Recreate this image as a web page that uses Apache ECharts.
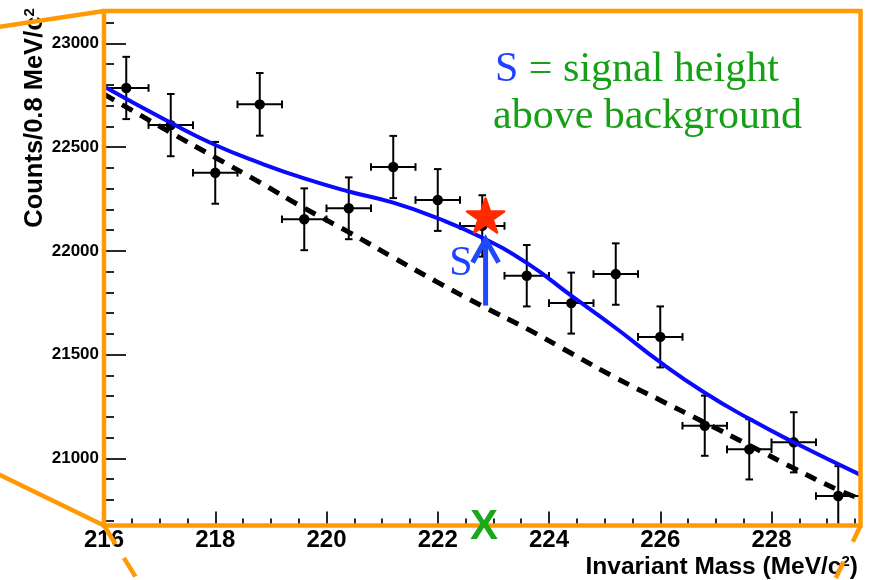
<!DOCTYPE html>
<html>
<head>
<meta charset="utf-8">
<script src="https://cdn.jsdelivr.net/npm/echarts@6/dist/echarts.min.js"></script>
<style>
  html, body { margin: 0; padding: 0; background: #ffffff; }
  #chart { width: 869px; height: 580px; }
</style>
</head>
<body>
<div id="chart"></div>
<script>
// Histogram: bin centres (MeV/c^2), counts per 0.8 MeV bin and their errors
const binCenters = [216.4, 217.2, 218.0, 218.8, 219.6, 220.4, 221.2, 222.0, 222.8, 223.6, 224.4, 225.2, 226.0, 226.8, 227.6, 228.4, 229.2];
const counts = [22785, 22606, 22376, 22706, 22152, 22205, 22404, 22245, 22120, 21880, 21748, 21888, 21585, 21157, 21043, 21077, 20818];
const countErrors = [150, 150, 149, 151, 149, 149, 150, 149, 148, 148, 147, 148, 147, 145, 145, 145, 144];
const binWidth = 0.8;

// Full fit: signal + background
const fitMass = [216.0, 217.2, 218.0, 218.8, 219.6, 220.4, 221.2, 222.0, 222.8, 223.6, 224.4, 225.2, 226.0, 226.8, 227.6, 228.4, 229.6];
const fitCounts = [22792, 22617, 22510, 22424, 22349, 22286, 22232, 22157, 22063, 21942, 21784, 21628, 21463, 21316, 21190, 21077, 20920];

// Background-only component of the fit
const bgMass = [216.0, 217.2, 218.0, 218.8, 219.6, 220.4, 221.2, 222.0, 222.8, 223.6, 224.4, 225.2, 226.0, 226.8, 227.6, 228.4, 229.2, 229.6];
const bgCounts = [22755, 22570, 22450, 22330, 22206, 22090, 21968, 21848, 21734, 21625, 21506, 21388, 21280, 21172, 21063, 20952, 20847, 20805];

// Signal position, the S arrow (background -> fit) and the star marker
const signalMass = 222.86;
const signalBase = 21736;
const signalTop = 22055;
const starCounts = 22170;

// Axis ranges and tick positions
const xRange = [216, 229.6];
const yRange = [20676, 23156];
const xMajorTicks = [216, 218, 220, 222, 224, 226, 228];
const xMinorTicks = [216.5, 217, 217.5, 218.5, 219, 219.5, 220.5, 221, 221.5, 222.5, 223, 223.5, 224.5, 225, 225.5, 226.5, 227, 227.5, 228.5, 229, 229.5];
const yMajorTicks = [21000, 21500, 22000, 22500, 23000];
const yMinorTicks = [20700, 20800, 20900, 21100, 21200, 21300, 21400, 21600, 21700, 21800, 21900, 22100, 22200, 22300, 22400, 22600, 22700, 22800, 22900, 23100];

const W = 869, H = 580;
const GRID = { left: 104, top: 11, right: 8.5, bottom: 54.5 };
const ORANGE = '#ff9a05';
const SANS = '"Liberation Sans", Arial, Helvetica, sans-serif';
const SERIF = '"Liberation Serif", "Times New Roman", Times, serif';
const ARROW_BLUE = '#1f48ff';
const TEXT_BLUE = '#1f40ff';
const TEXT_GREEN = '#16a016';
const FIT_BLUE = '#0a0aff';

const pairs = (xs, ys) => xs.map((x, i) => [x, ys[i]]);

function errorBarItem(params, api) {
  const x = api.value(0), y = api.value(1), e = api.value(2);
  const c = api.coord([x, y]);
  const l = api.coord([x - binWidth / 2, y]);
  const r = api.coord([x + binWidth / 2, y]);
  const t = api.coord([x, y + e]);
  const b = api.coord([x, y - e]);
  const cap = 3.8;
  const st = { stroke: '#000', lineWidth: 2 };
  const seg = (x1, y1, x2, y2) => ({ type: 'line', shape: { x1, y1, x2, y2 }, style: st });
  return {
    type: 'group',
    children: [
      seg(l[0], c[1], r[0], c[1]),
      seg(c[0], t[1], c[0], b[1]),
      seg(l[0], c[1] - cap, l[0], c[1] + cap),
      seg(r[0], c[1] - cap, r[0], c[1] + cap),
      seg(c[0] - cap, t[1], c[0] + cap, t[1]),
      seg(c[0] - cap, b[1], c[0] + cap, b[1]),
      { type: 'circle', shape: { cx: c[0], cy: c[1], r: 5.2 }, style: { fill: '#000' } }
    ]
  };
}

function arrowItem(params, api) {
  const base = api.coord([api.value(0), api.value(1)]);
  const tip = api.coord([api.value(0), api.value(2)]);
  return {
    type: 'group',
    children: [
      { type: 'line', shape: { x1: base[0], y1: base[1], x2: tip[0], y2: tip[1] + 3 },
        style: { stroke: ARROW_BLUE, lineWidth: 5 } },
      { type: 'polyline',
        shape: { points: [[tip[0] - 13, tip[1] + 23], [tip[0], tip[1]], [tip[0] + 13, tip[1] + 23]] },
        style: { stroke: ARROW_BLUE, lineWidth: 5, fill: 'none', lineJoin: 'miter' } },
      { type: 'text', x: tip[0] - 13, y: (tip[1] + base[1]) / 2 - 9,
        style: { text: 'S', font: '42px ' + SERIF, fill: TEXT_BLUE, align: 'right', verticalAlign: 'middle' } }
    ]
  };
}

function crossItem(params, api) {
  const p = api.coord([api.value(0), yRange[0]]);
  return {
    type: 'text', x: p[0] - 1.5, y: p[1] + 2,
    style: { text: 'X', font: 'bold 42px ' + SANS, fill: '#1aa81a', align: 'center', verticalAlign: 'middle' }
  };
}

const STAR = 'path://M50 0 L61.23 34.55 L97.55 34.55 L68.17 55.9 L79.39 90.45 L50 69.1 L20.61 90.45 L31.83 55.9 L2.45 34.55 L38.77 34.55 Z';

const tickStyle = { color: '#111', width: 1.8 };
const hiddenLine = { show: false };

const option = {
  animation: false,
  backgroundColor: '#ffffff',
  grid: { left: GRID.left, top: GRID.top, right: GRID.right, bottom: GRID.bottom, show: false },
  xAxis: [
    {
      type: 'value', min: xRange[0], max: xRange[1], position: 'bottom',
      axisLine: hiddenLine, splitLine: { show: false },
      axisTick: { show: true, inside: true, length: 14, customValues: xMajorTicks, lineStyle: tickStyle },
      axisLabel: { show: true, customValues: xMajorTicks, margin: 3, fontSize: 24, fontWeight: 'bold',
                   fontFamily: SANS, color: '#000', formatter: v => String(v) }
    },
    {
      type: 'value', min: xRange[0], max: xRange[1], position: 'bottom',
      axisLine: hiddenLine, splitLine: { show: false },
      axisTick: { show: true, inside: true, length: 7, customValues: xMinorTicks, lineStyle: tickStyle },
      axisLabel: { show: false }
    }
  ],
  yAxis: [
    {
      type: 'value', min: yRange[0], max: yRange[1], position: 'left',
      axisLine: hiddenLine, splitLine: { show: false },
      axisTick: { show: true, inside: true, length: 22, customValues: yMajorTicks, lineStyle: tickStyle },
      axisLabel: { show: true, customValues: yMajorTicks, margin: 5, fontSize: 17, fontWeight: 'bold',
                   fontFamily: SANS, color: '#000', formatter: v => String(v) }
    },
    {
      type: 'value', min: yRange[0], max: yRange[1], position: 'left',
      axisLine: hiddenLine, splitLine: { show: false },
      axisTick: { show: true, inside: true, length: 10, customValues: yMinorTicks, lineStyle: tickStyle },
      axisLabel: { show: false }
    }
  ],
  series: [
    {
      name: 'Data', type: 'custom', xAxisIndex: 0, yAxisIndex: 0, z: 2,
      renderItem: errorBarItem,
      encode: { x: 0, y: 1 },
      data: binCenters.map((x, i) => [x, counts[i], countErrors[i]])
    },
    {
      name: 'Background', type: 'line', xAxisIndex: 0, yAxisIndex: 0, z: 3,
      data: pairs(bgMass, bgCounts), smooth: 0.5, showSymbol: false, symbol: 'none',
      lineStyle: { color: '#000', width: 5, type: [12, 9], cap: 'butt' }
    },
    {
      name: 'Fit', type: 'line', xAxisIndex: 0, yAxisIndex: 0, z: 4,
      data: pairs(fitMass, fitCounts), smooth: 0.5, showSymbol: false, symbol: 'none',
      lineStyle: { color: FIT_BLUE, width: 4 }
    },
    {
      name: 'Signal height', type: 'custom', xAxisIndex: 0, yAxisIndex: 0, z: 5,
      renderItem: arrowItem, encode: { x: 0, y: [1, 2] },
      data: [[signalMass, signalBase, signalTop]]
    },
    {
      name: 'Peak', type: 'scatter', xAxisIndex: 0, yAxisIndex: 0, z: 6,
      symbol: STAR, symbolSize: [37, 34],
      itemStyle: { color: '#ff2a00', borderColor: '#ff2a00', borderWidth: 2.5, borderJoin: 'round', opacity: 1 },
      data: [[signalMass, starCounts]]
    },
    {
      name: 'Mass position', type: 'custom', xAxisIndex: 0, yAxisIndex: 0, z: 60, clip: false,
      renderItem: crossItem, encode: { x: 0 },
      data: [[signalMass]]
    }
  ],
  graphic: [
    // plot frame
    { type: 'rect', z: 50, silent: true,
      shape: { x: GRID.left, y: GRID.top, width: W - GRID.left - GRID.right, height: H - GRID.top - GRID.bottom },
      style: { fill: 'none', stroke: ORANGE, lineWidth: 4.5 } },
    // zoom connector lines
    { type: 'line', z: 50, silent: true, shape: { x1: -2, y1: 27, x2: GRID.left, y2: GRID.top },
      style: { stroke: ORANGE, lineWidth: 4.5 } },
    { type: 'line', z: 50, silent: true, shape: { x1: -2, y1: 474, x2: GRID.left, y2: H - GRID.bottom },
      style: { stroke: ORANGE, lineWidth: 4.5 } },
    { type: 'line', z: 50, silent: true, shape: { x1: GRID.left, y1: H - GRID.bottom, x2: 140, y2: 584 },
      style: { stroke: ORANGE, lineWidth: 4.5, lineDash: [22, 16] } },
    { type: 'line', z: 50, silent: true, shape: { x1: W - GRID.right, y1: H - GRID.bottom, x2: 833, y2: 584 },
      style: { stroke: ORANGE, lineWidth: 4.5, lineDash: [18, 22] } },
    // axis titles
    { type: 'text', z: 40, x: 35, y: 118, rotation: Math.PI / 2,
      style: {
        text: '{t|Counts/0.8 MeV/c}{s|2}', align: 'center', verticalAlign: 'middle',
        rich: {
          t: { fontSize: 25.5, fontWeight: 'bold', fontFamily: SANS, fill: '#000' },
          s: { fontSize: 15, fontWeight: 'bold', fontFamily: SANS, fill: '#000', verticalAlign: 'top' }
        }
      } },
    { type: 'text', z: 40, x: 858, y: 567,
      style: {
        text: '{t|Invariant Mass (MeV/c}{s|2}{t|)}', align: 'right', verticalAlign: 'middle',
        rich: {
          t: { fontSize: 24.5, fontWeight: 'bold', fontFamily: SANS, fill: '#000' },
          s: { fontSize: 15, fontWeight: 'bold', fontFamily: SANS, fill: '#000', verticalAlign: 'top' }
        }
      } },
    // legend text
    { type: 'text', z: 40, x: 495, y: 70,
      style: {
        text: '{b|S}{g| = signal height}', align: 'left', verticalAlign: 'middle',
        rich: {
          b: { fontSize: 42, fontFamily: SERIF, fill: TEXT_BLUE },
          g: { fontSize: 42, fontFamily: SERIF, fill: TEXT_GREEN }
        }
      } },
    { type: 'text', z: 40, x: 493, y: 117,
      style: { text: 'above background', align: 'left', verticalAlign: 'middle',
               fontSize: 42, fontFamily: SERIF, fill: TEXT_GREEN } }
  ]
};

const chart = echarts.init(document.getElementById('chart'), null, { renderer: 'canvas', width: W, height: H });
chart.setOption(option);
</script>
</body>
</html>
